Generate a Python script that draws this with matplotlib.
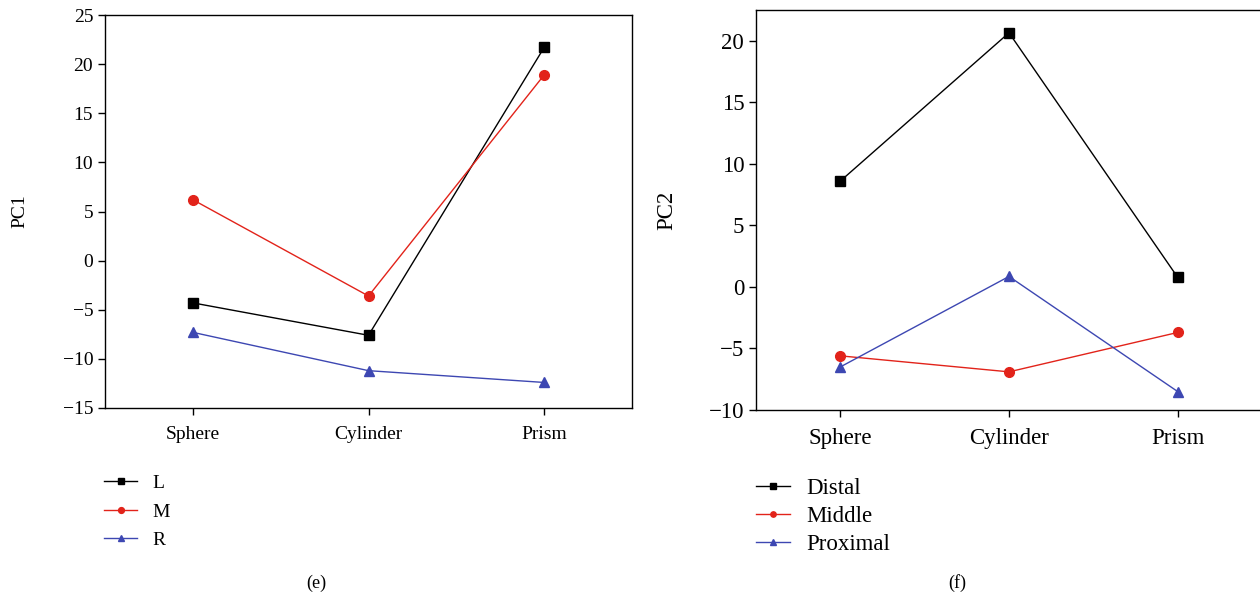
import matplotlib
matplotlib.use('Agg')
import matplotlib.pyplot as plt

plt.rcParams['font.family'] = ['Liberation Serif', 'DejaVu Serif']
plt.rcParams['axes.linewidth'] = 1.0

categories = ['Sphere', 'Cylinder', 'Prism']

# panel (e): PC1
pc1_L = [-4.3, -7.6, 21.7]
pc1_M = [6.2, -3.6, 18.9]
pc1_R = [-7.3, -11.2, -12.4]

# panel (f): PC2
pc2_distal = [8.6, 20.65, 0.78]
pc2_middle = [-5.6, -6.9, -3.7]
pc2_proximal = [-6.5, 0.85, -8.5]

black = '#000000'
red = '#e2231a'
blue = '#3d47b2'

fig = plt.figure(figsize=(12.6, 5.99), dpi=100)
ax1 = fig.add_axes([105/1260, 1-408/599, (632-105)/1260, (408-15)/599])
ax2 = fig.add_axes([756/1260, 1-410/599, (1262-756)/1260, (410-10)/599])

x = range(len(categories))

ax1.plot(x, pc1_L, color=black, lw=1, marker='s', ms=7, label='L')
ax1.plot(x, pc1_M, color=red, lw=1, marker='o', ms=7, label='M')
ax1.plot(x, pc1_R, color=blue, lw=1, marker='^', ms=7, label='R')
ax1.set_ylim(-15, 25)
ax1.set_yticks(range(-15, 26, 5))
ax1.set_yticklabels([str(v).replace('-', '\u2212') for v in range(-15, 26, 5)])
ax1.set_ylabel('PC1', fontsize=14)
ax1.yaxis.set_label_coords(-0.146, 0.5)

ax2.plot(x, pc2_distal, color=black, lw=1, marker='s', ms=7, label='Distal')
ax2.plot(x, pc2_middle, color=red, lw=1, marker='o', ms=7, label='Middle')
ax2.plot(x, pc2_proximal, color=blue, lw=1, marker='^', ms=7, label='Proximal')
ax2.set_ylim(-10, 22.5)
ax2.set_yticks(range(-10, 21, 5))
ax2.set_yticklabels([str(v).replace('-', '\u2212') for v in range(-10, 21, 5)])
ax2.set_ylabel('PC2', fontsize=16.5)
ax2.yaxis.set_label_coords(-0.155, 0.5)

for ax, fs in [(ax1, 14), (ax2, 16.5)]:
    ax.set_xlim(-0.5, 2.5)
    ax.set_xticks(list(x))
    ax.set_xticklabels(categories)
    ax.tick_params(direction='out', length=5, width=1, labelsize=fs)
    ax.tick_params(axis='x', pad=8)

leg1 = ax1.legend(loc='upper left', bbox_to_anchor=(-0.035, -0.125), frameon=False,
                  fontsize=14, markerscale=0.6, handlelength=1.7, labelspacing=0.55,
                  handletextpad=0.8)
leg2 = ax2.legend(loc='upper left', bbox_to_anchor=(-0.041, -0.118), frameon=False,
                  fontsize=16.5, markerscale=0.55, handlelength=1.5, labelspacing=0.3,
                  handletextpad=0.7)

fig.text(316/1260, 1-583/599, '(e)', ha='center', va='center', fontsize=13)
fig.text(957/1260, 1-583/599, '(f)', ha='center', va='center', fontsize=13)

fig.savefig('out.png', dpi=100)
